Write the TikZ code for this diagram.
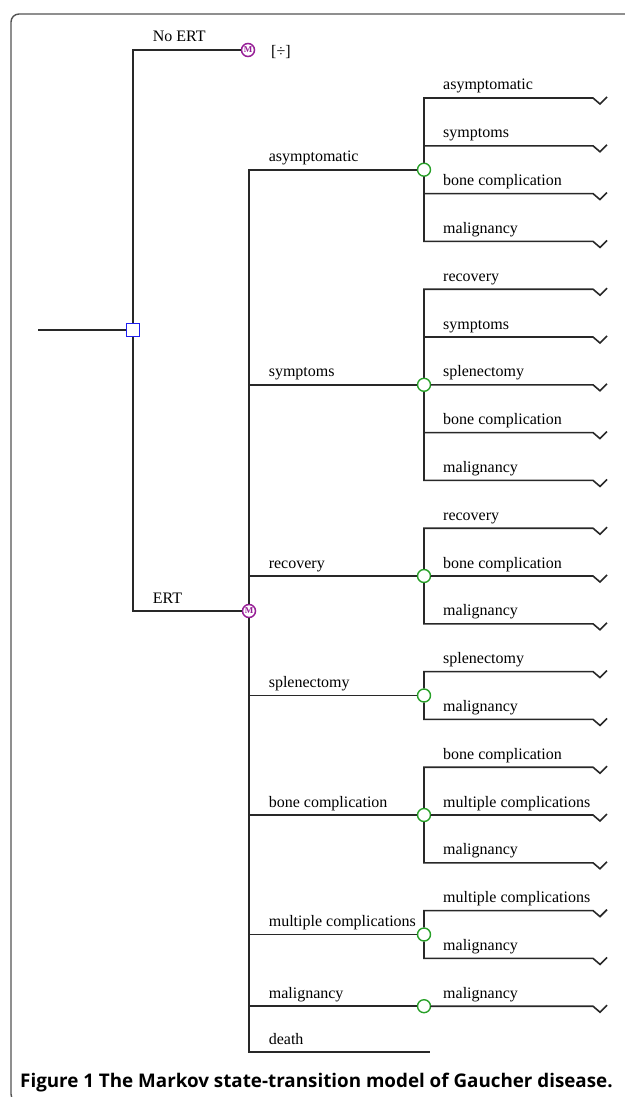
\documentclass[tikz,border=0pt]{standalone}
\usepackage{fontspec}
\setmainfont{Liberation Serif}
\newfontfamily\capfont{Open Sans}
\usepackage{tikz}

\definecolor{treegray}{RGB}{40,40,40}
\definecolor{markovpurple}{RGB}{150,30,150}
\definecolor{chancegreen}{RGB}{40,160,40}
\definecolor{decblue}{RGB}{30,30,240}

\begin{document}
\begin{tikzpicture}
 [x=1pt, y=-1pt,
  branch/.style={draw=treegray, line width=1.6pt},
  frame/.style={draw=treegray!80, line width=1.4pt, rounded corners=8pt},
  decision node/.style={rectangle, draw=decblue, fill=white, line width=1.5pt, minimum size=13pt, inner sep=0pt},
  markov node/.style={circle, draw=markovpurple, fill=white, line width=1.5pt, minimum size=13pt, inner sep=0pt, text=markovpurple, font=\fontsize{9}{9}\selectfont\bfseries},
  chance node/.style={circle, draw=chancegreen, fill=white, line width=1.4pt, minimum size=13pt, inner sep=0pt},
  lbl/.style={anchor=base west, inner sep=0pt, xshift=19pt, yshift=8pt, font=\fontsize{16}{18}\selectfont, text=black},
  elbow/.style={to path={|- (\tikztotarget) \tikztonodes}},
  leaf/.style={to path={|- (\tikztotarget) \tikztonodes -- ++(7,6) -- ++(7,-7)}}]

\useasboundingbox (0,0) rectangle (624,1097);
\draw[frame] (11,14) rectangle (680,1102);

% decision and the two strategies
\coordinate (root) at (38,330);
\node[decision node] (dec) at (133,330) {};
\node[markov node] (noert) at (248,50) {M};
\node[markov node] (ert) at (249,611) {M};
\node[anchor=base west, inner sep=0pt, font=\fontsize{16}{18}\selectfont] (collapsed) at (271,57) {[÷]};

\path[branch]
  (root) edge (dec)
  (dec) edge[elbow] node[lbl, pos=.5] {No ERT} (noert)
  (dec) edge[elbow] node[lbl, pos=.5] {ERT} (ert);

% Markov states
\foreach \c/\y/\txt in {c1/169.7/asymptomatic, c2/384.8/symptoms, c3/576/recovery,
    c4/695.5/splenectomy, c5/815/bone complication, c6/934.5/multiple complications,
    c7/1006.2/malignancy}
{
  \node[chance node] (\c) at (424,\y) {};
  \path[branch] (ert) edge[elbow] node[lbl, pos=.5] {\txt} (\c);
}

\coordinate (death) at (430,1052);
\path[branch] (ert) edge[elbow] node[lbl, pos=.5] {death} (death);

% transitions
\foreach \c/\a/\r/\txt in {c1/north/0/asymptomatic, c1/north/1/symptoms,
    c1/south/2/bone complication, c1/south/3/malignancy,
    c2/north/4/recovery, c2/north/5/symptoms, c2/east/6/splenectomy,
    c2/south/7/bone complication, c2/south/8/malignancy,
    c3/north/9/recovery, c3/east/10/bone complication, c3/south/11/malignancy,
    c4/north/12/splenectomy, c4/south/13/malignancy,
    c5/north/14/bone complication, c5/east/15/multiple complications, c5/south/16/malignancy,
    c6/north/17/multiple complications, c6/south/18/malignancy,
    c7/east/19/malignancy}
{
  \pgfmathsetmacro\ty{98+47.8*\r}
  \coordinate (t\r) at (593,\ty);
  \path[branch] (\c.\a) edge[leaf] (t\r);
  \node[lbl] (l\r) at (424,\ty) {\txt};
}

\node[anchor=base west, inner sep=0pt, font=\capfont\fontsize{18.8}{21}\selectfont\bfseries] (caption)
  at (20,1087) {Figure 1 The Markov state-transition model of Gaucher disease.};

\end{tikzpicture}
\end{document}
